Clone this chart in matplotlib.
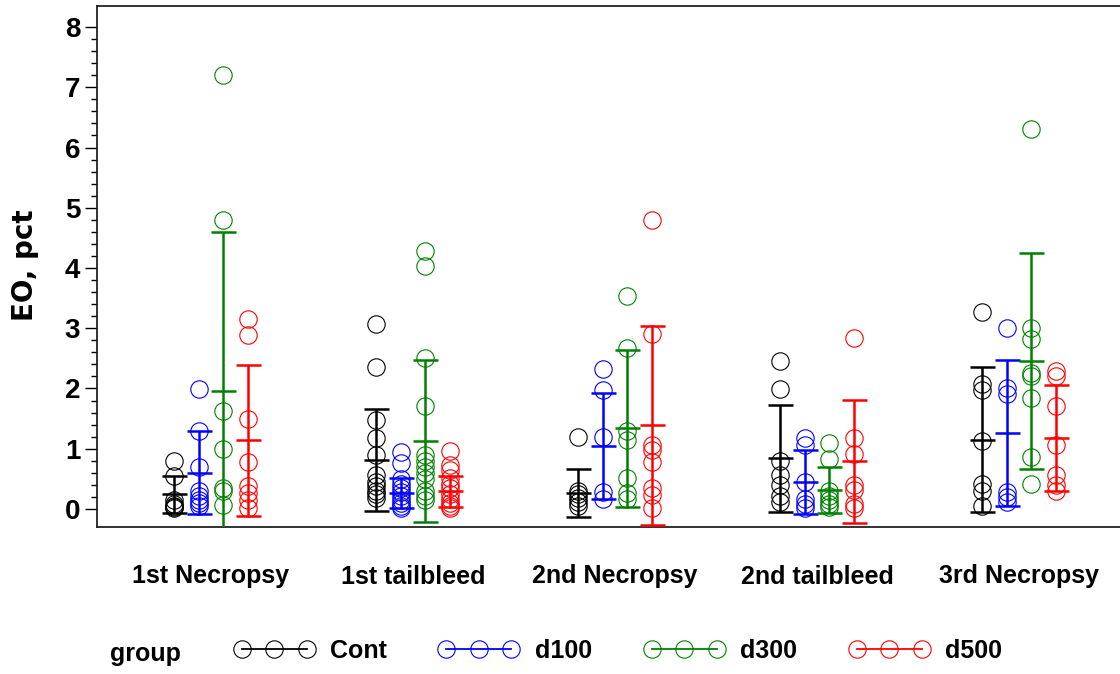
import numpy as np
import matplotlib
matplotlib.use("Agg")
import matplotlib.pyplot as plt
from matplotlib.lines import Line2D

plt.rcParams['font.family'] = ['Liberation Sans', 'DejaVu Sans']

# categories and groups
categories = ["1st Necropsy", "1st tailbleed", "2nd Necropsy", "2nd tailbleed", "3rd Necropsy"]
groups = ["Cont", "d100", "d300", "d500"]
colors = ["black", "blue", "green", "red"]

# individual values per category
cont_pts = [[0.80, 0.55, 0.15, 0.08, 0.05, 0.03, 0.02],
            [3.07, 2.36, 1.48, 1.18, 0.90, 0.56, 0.45, 0.38, 0.30, 0.25, 0.18],
            [1.20, 0.30, 0.25, 0.18, 0.12, 0.05],
            [2.46, 1.99, 0.79, 0.56, 0.39, 0.22, 0.11],
            [3.27, 2.07, 1.98, 1.12, 0.42, 0.30, 0.05]]
d100_pts = [[1.99, 1.29, 0.70, 0.30, 0.22, 0.15, 0.10, 0.05],
            [0.94, 0.76, 0.50, 0.42, 0.35, 0.28, 0.22, 0.15, 0.10, 0.05, 0.02],
            [2.32, 1.98, 1.20, 0.28, 0.17],
            [1.18, 1.06, 0.45, 0.17, 0.08, 0.02],
            [3.00, 2.01, 1.90, 0.28, 0.20, 0.12]]
d300_pts = [[7.21, 4.79, 1.63, 1.00, 0.35, 0.30, 0.07],
            [4.28, 4.03, 2.51, 1.71, 0.90, 0.80, 0.70, 0.60, 0.50, 0.30, 0.22, 0.15],
            [3.53, 2.68, 1.29, 1.15, 0.52, 0.26, 0.17],
            [1.10, 0.83, 0.30, 0.22, 0.15, 0.08, 0.04],
            [6.30, 3.00, 2.82, 2.25, 2.21, 1.84, 0.86, 0.42]]
d500_pts = [[3.16, 2.88, 1.49, 0.78, 0.38, 0.27, 0.15, 0.02],
            [0.96, 0.73, 0.65, 0.51, 0.42, 0.35, 0.25, 0.17, 0.10, 0.05, 0.01],
            [4.80, 2.90, 1.06, 0.98, 0.78, 0.34, 0.23, 0.02],
            [2.84, 1.18, 0.92, 0.39, 0.31, 0.08, 0.02],
            [2.29, 2.21, 1.71, 1.06, 0.56, 0.39, 0.30]]

# mean and SD bars
cont_mean = [0.24, 0.81, 0.27, 0.84, 1.15]
cont_sd   = [0.31, 0.85, 0.40, 0.89, 1.20]
d100_mean = [0.60, 0.26, 1.04, 0.45, 1.26]
d100_sd   = [0.69, 0.25, 0.88, 0.53, 1.21]
d300_mean = [1.95, 1.13, 1.34, 0.32, 2.46]
d300_sd   = [2.64, 1.34, 1.30, 0.38, 1.79]
d500_mean = [1.14, 0.29, 1.39, 0.79, 1.18]
d500_sd   = [1.25, 0.25, 1.65, 1.02, 0.88]

all_pts = [cont_pts, d100_pts, d300_pts, d500_pts]
all_mean = [cont_mean, d100_mean, d300_mean, d500_mean]
all_sd = [cont_sd, d100_sd, d300_sd, d500_sd]

fig = plt.figure(figsize=(11.2, 6.74), dpi=100)
ax = fig.add_axes([97/1120, 1 - 527/674, (1125 - 97)/1120, (527 - 6)/674])

offsets = [-0.182, -0.06, 0.06, 0.182]
for g in range(4):
    c = colors[g]
    for i in range(len(categories)):
        x = i + offsets[g]
        ys = all_pts[g][i]
        ax.plot([x]*len(ys), ys, linestyle='none', marker='o', markersize=12.5,
                markerfacecolor='none', markeredgecolor=c, markeredgewidth=0.8, zorder=2)
        ax.errorbar(x, all_mean[g][i], yerr=all_sd[g][i], fmt='none', ecolor=c,
                    elinewidth=1.8, capsize=9, capthick=1.8, zorder=3)
        ax.plot(x, all_mean[g][i], marker='_', markersize=18, markeredgewidth=1.8,
                color=c, zorder=3)

ax.set_xlim(-0.564, 4.525)
ax.set_ylim(-0.30, 8.35)
ax.set_xticks(range(len(categories)))
ax.set_xticklabels(categories, fontsize=18, fontweight='bold')
ax.tick_params(axis='x', length=0, pad=27)
ax.set_yticks(range(0, 9))
ax.set_yticks(np.arange(0, 8.01, 0.2), minor=True)
ax.tick_params(axis='y', which='major', length=9, width=1, pad=3, labelsize=20)
ax.tick_params(axis='y', which='minor', length=4.5, width=1)
for lab in ax.get_yticklabels():
    lab.set_fontweight('bold')
for s in ax.spines.values():
    s.set_linewidth(1.3)
    s.set_color('#222222')

fig.text(25/1120, 1 - 265/674, "EO, pct", rotation=90, ha='center', va='center',
         fontsize=20, fontweight='bold', family='DejaVu Sans')

# legend row
fig.text(110/1120, 1 - 654/674, "group", ha='left', va='center', fontsize=18, fontweight='bold')
handles = [Line2D([], [], color=colors[g], linewidth=1.3, marker='o', markersize=12.5,
                  markerfacecolor='none', markeredgewidth=0.8) for g in range(4)]
leg = fig.legend(handles, groups, loc='center left', bbox_to_anchor=(234/1120, 1 - 651/674),
                 ncol=4, frameon=False, numpoints=3, handlelength=3.2, handletextpad=0.64,
                 columnspacing=2.08, borderpad=0, borderaxespad=0,
                 prop={'size': 18, 'weight': 'bold'})

fig.savefig("out.png", dpi=100)
